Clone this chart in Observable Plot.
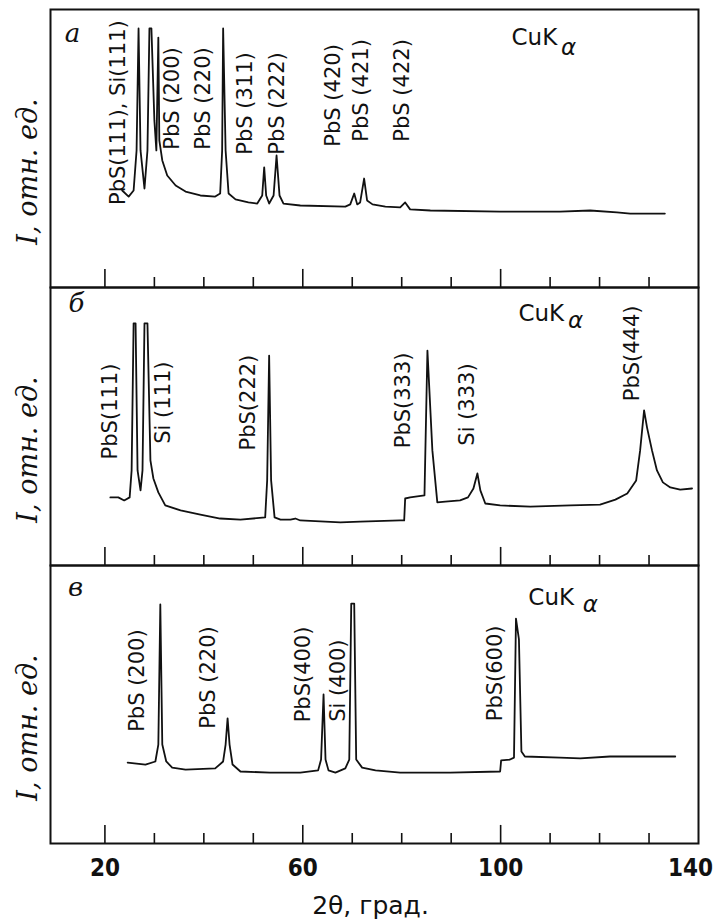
<!DOCTYPE html>
<html><head><meta charset="utf-8">
<script src="https://cdn.jsdelivr.net/npm/d3@7"></script>
<script src="https://cdn.jsdelivr.net/npm/@observablehq/plot@0.6"></script>
<style>
body{margin:0;background:#fff;}
#chart{width:719px;}
#chart svg{display:block;}
</style></head><body><div id="chart"></div><script>
// ---- x axis ----
const tickValues = [20,30,40,50,60,70,80,90,100,110,120,130];
const majorTicks = [20,60,100];
const axisLabels = [20,60,100];
const axisLabelLast = [140];
const xTitle = "2θ, град.";
const yTitle = "I, отн. ед.";

// ---- panel a ----
const thetaA = [23.5,24.8,25.8,26.4,26.8,27.2,28.0,28.6,29.0,29.4,30.0,30.4,30.8,31.0,31.6,32.6,34.3,36.3,39.3,42.3,43.3,43.7,43.9,44.4,45.0,46.4,49.0,50.8,51.8,52.2,52.6,53.2,54.1,54.7,55.3,56.1,59.5,68.6,69.6,70.4,71.0,71.6,72.4,73.0,74.1,76.7,79.7,80.7,81.7,85.8,99.9,112.0,118.1,123.5,126.2,133.2];
const intensityA = [34.9,32.7,34.9,49.3,93.2,49.3,35.6,49.3,93.2,93.2,60.1,49.3,89.9,52.9,45.7,40.3,36.7,34.5,33.1,32.7,33.8,49.3,93.2,49.3,33.8,31.7,30.6,30.2,33.1,43.2,33.1,30.2,33.1,47.5,33.1,30.2,29.5,29.1,29.9,33.8,29.9,30.6,39.2,31.3,29.9,29.1,28.8,30.6,28.1,27.7,27.3,27.3,27.7,27.0,26.6,26.6];
const labelsA = ["PbS(111), Si(111)","PbS (200)","PbS (220)","PbS (311)","PbS (222)","PbS (420)","PbS (421)","PbS (422)"];
const labelThetaA = [22.7,33.6,39.9,48.4,54.9,66.2,71.8,80.1];
const labelLevelA = [62.9,68.0,68.0,66.2,66.2,69.1,70.9,70.9];

// ---- panel б ----
const thetaB = [21.1,22.7,23.9,25.0,25.4,25.8,26.2,26.6,27.2,27.6,28.0,28.6,29.2,29.8,30.8,32.2,35.3,39.3,43.3,47.4,52.4,52.8,53.2,53.6,54.3,55.5,57.5,58.5,59.5,67.6,71.6,79.7,80.5,80.7,81.7,84.6,85.2,86.2,87.2,88.8,91.8,93.4,94.5,95.3,95.9,96.9,99.9,106.0,114.1,120.1,123.2,125.6,127.4,128.2,129.0,129.6,130.6,131.6,132.8,134.3,136.3,138.7];
const intensityB = [24.5,24.5,23.4,24.5,34.2,87.1,87.1,34.2,27.0,34.2,87.1,87.1,37.8,31.3,26.3,21.6,19.8,18.3,16.9,16.5,17.3,30.6,75.5,30.6,17.3,16.5,16.5,16.9,16.2,15.5,15.8,16.2,16.2,24.1,24.5,25.2,77.3,41.4,22.7,23.0,23.4,24.5,27.7,33.1,27.0,22.3,21.6,21.2,21.6,21.9,23.7,25.9,30.6,41.4,55.8,49.6,41.4,34.2,29.9,28.1,27.3,27.7];
const labelsB = ["PbS(111)","Si (111)","PbS(222)","PbS(333)","Si (333)","PbS(444)"];
const labelThetaB = [21.1,31.8,49.0,80.3,93.2,126.6];
const labelLevelB = [55.4,58.6,58.6,59.4,57.9,76.3];

// ---- panel в ----
const thetaC = [24.6,28.2,30.2,30.8,31.2,31.6,32.4,33.6,36.3,42.3,43.9,44.4,44.8,45.2,45.8,47.4,53.4,59.5,63.1,63.7,64.2,64.6,65.2,66.6,68.6,69.4,69.8,70.4,70.8,72.0,74.7,79.7,89.8,99.9,100.1,101.9,102.7,103.1,103.7,104.2,104.9,112.0,116.1,122.1,135.3];
const intensityC = [29.1,28.4,29.5,35.6,86.0,35.6,29.5,27.3,26.6,27.0,29.5,35.6,45.0,35.6,28.4,25.9,25.5,25.5,26.3,30.2,53.6,30.2,26.3,25.5,27.0,30.2,86.3,86.3,30.2,27.3,26.3,25.5,25.5,25.9,29.9,30.2,30.9,80.9,73.4,33.1,31.3,30.9,30.6,31.3,31.3];
const labelsC = ["PbS (200)","PbS (220)","PbS(400)","Si (400)","PbS(600)"];
const labelThetaC = [26.6,40.9,60.1,67.2,98.9];
const labelLevelC = [58.6,59.7,60.8,58.6,61.2];

// ---- panel captions ----
const panelLetters = ["a","б","в"];
const radiation = "CuK";
const radiationSub = "α";
const radThetaMain = [102.2,103.6,105.6];
const radLevelMain = [89.9,90.6,88.6];
const radThetaSub = [112.2,113.6,116.6];
const radLevelSub = [86.3,88.0,86.0];

const ink = "#111";

function drawPanel(o) {
  const curve = o.t.map((t,i)=>({t, I:o.I[i]}));
  const lab = o.labels.map((s,i)=>({s, t:o.labelT[i], I:o.labelI[i]}));
  const marks = [
    Plot.frame({stroke:ink, strokeWidth:2}),
    Plot.ruleX(tickValues, {x:d=>d, y1:0, y2:d=>majorTicks.includes(d)?6.5:3.6, stroke:ink, strokeWidth:1.6}),
    Plot.line(curve, {x:"t", y:"I", stroke:ink, strokeWidth:1.8}),
    Plot.text(lab, {x:"t", y:"I", text:"s", rotate:-90, fontSize:21, fontFamily:"DejaVu Sans", fill:ink, textAnchor:"middle", lineAnchor:"middle"}),
    Plot.text([panelLetters[o.k]], {text:d=>d, frameAnchor:"top-left", dx:o.ldx, dy:o.ldy, fontSize:26, fontStyle:"italic", fontFamily:"DejaVu Serif", fill:ink, textAnchor:"middle", lineAnchor:"middle"}),
    Plot.text([yTitle], {text:d=>d, frameAnchor:"left", dx:-22, dy:23, rotate:-90, fontSize:27, fontStyle:"italic", fontFamily:"DejaVu Serif", fill:ink, textAnchor:"middle", lineAnchor:"middle"}),
    Plot.text([radiation], {text:d=>d, x:()=>radThetaMain[o.k], y:()=>radLevelMain[o.k], fontSize:23, fontFamily:"DejaVu Sans", fill:ink, textAnchor:"start", lineAnchor:"middle"}),
    Plot.text([radiationSub], {text:d=>d, x:()=>radThetaSub[o.k], y:()=>radLevelSub[o.k], fontSize:23, fontStyle:"italic", fontFamily:"DejaVu Sans", fill:ink, textAnchor:"start", lineAnchor:"middle"})
  ];
  if (o.axis) {
    const tickFont = {frameAnchor:"bottom", dy:25, fontSize:24, fontWeight:"bold", fontFamily:"DejaVu Sans Condensed, DejaVu Sans", fill:ink, textAnchor:"middle", lineAnchor:"middle"};
    marks.push(Plot.text(axisLabels, {x:d=>d, text:d=>String(d), ...tickFont}));
    marks.push(Plot.text(axisLabelLast, {x:d=>d, text:d=>String(d), ...tickFont, dx:-8}));
    marks.push(Plot.text([xTitle], {text:d=>d, frameAnchor:"bottom", dy:62, dx:-4, fontSize:25, fontFamily:"DejaVu Sans", fill:ink, textAnchor:"middle", lineAnchor:"middle"}));
  }
  return Plot.plot({
    width:719, height:o.height, marginLeft:50, marginRight:21, marginTop:o.mt, marginBottom:o.mb,
    x:{domain:[9,140], axis:null}, y:{domain:[0,100], axis:null},
    style:{overflow:"visible", background:"transparent"},
    marks
  });
}

const chart = document.getElementById("chart");
chart.append(drawPanel({k:0, t:thetaA, I:intensityA, labels:labelsA, labelT:labelThetaA, labelI:labelLevelA, height:287, mt:9, mb:0, ldx:22, ldy:24, axis:false}));
chart.append(drawPanel({k:1, t:thetaB, I:intensityB, labels:labelsB, labelT:labelThetaB, labelI:labelLevelB, height:278, mt:0, mb:0, ldx:26, ldy:16, axis:false}));
chart.append(drawPanel({k:2, t:thetaC, I:intensityC, labels:labelsC, labelT:labelThetaC, labelI:labelLevelC, height:356, mt:0, mb:78, ldx:25, ldy:22, axis:true}));
</script></body></html>
